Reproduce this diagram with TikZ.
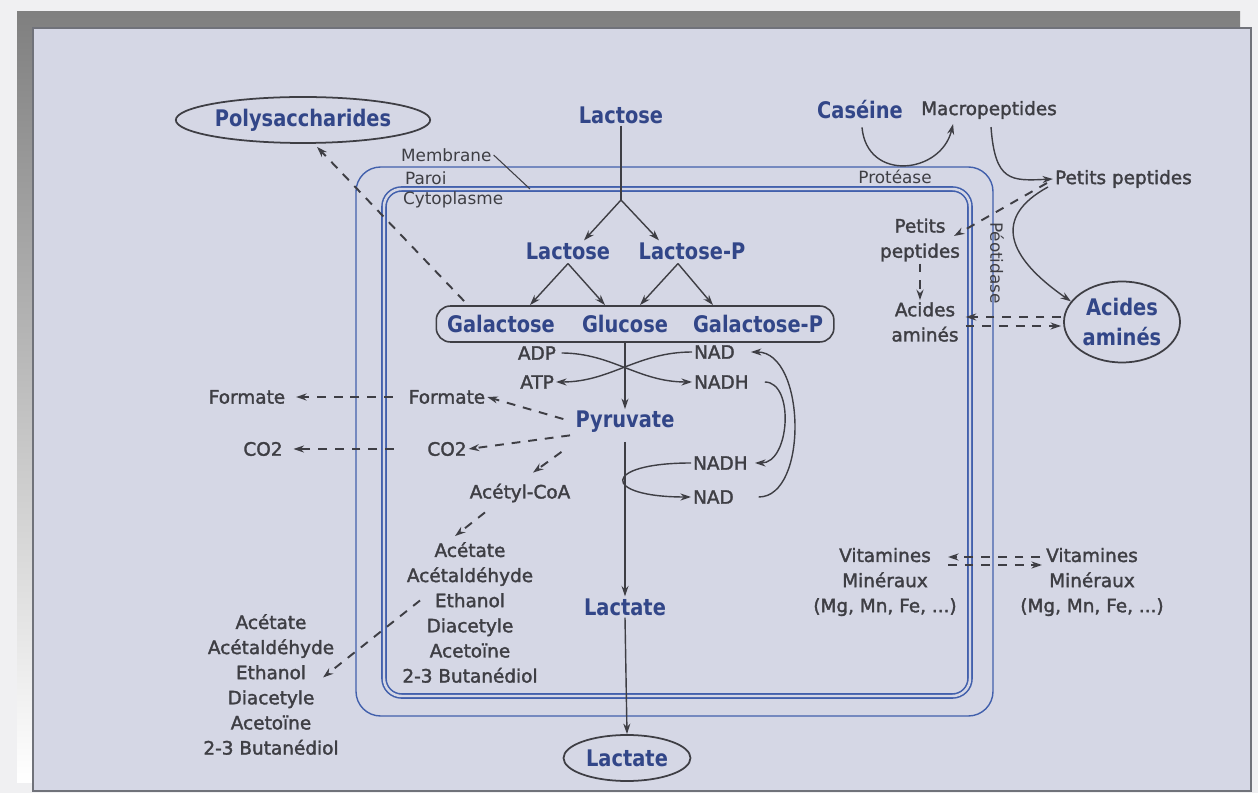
\documentclass[tikz,border=0pt]{standalone}
\usepackage{fontspec}
\setmainfont{DejaVu Sans}
\newfontfamily\condfont[FakeStretch=0.85]{DejaVu Sans}
\newfontfamily\medfont[FakeBold=1.8]{DejaVu Sans}
\usetikzlibrary{arrows.meta,shapes.geometric,positioning,calc,fit}

\definecolor{paper}{RGB}{240,240,242}
\definecolor{shade}{RGB}{112,114,122}
\definecolor{panel}{RGB}{213,215,229}
\definecolor{ink}{RGB}{62,62,68}
\definecolor{sugarblue}{RGB}{50,70,136}
\definecolor{wallblue}{RGB}{66,96,172}

\tikzset{
  sugar/.style={font=\condfont\bfseries\fontsize{13}{17}\selectfont, text=sugarblue, inner sep=1pt, align=center},
  metab/.style={font=\medfont\fontsize{10.5}{14.3}\selectfont, text=ink, inner sep=1pt, align=center},
  wall/.style={font=\fontsize{9.6}{11}\selectfont, text=ink, inner sep=1pt},
  pool/.style={ellipse, draw=ink, line width=1pt, inner sep=0pt},
  flow/.style={draw=ink, line width=0.8pt, -{Stealth[length=6pt,width=4pt]}},
  leak/.style={flow, line width=1.1pt, dash pattern=on 5pt off 4.5pt},
}

\begin{document}
\begin{tikzpicture}[x=0.02cm, y=-0.02cm]
  % frame
  \fill[paper] (0,0) rectangle (1258,793);
  \fill[shade] (17,12) rectangle (1240,782);
  \filldraw[fill=panel, draw=shade, line width=1pt] (33,28) rectangle (1251,791);

  % cell envelope
  \draw[wallblue, line width=0.8pt, rounded corners=14pt] (356,167) rectangle (993,716);
  \draw[wallblue, line width=0.9pt, double=panel, double distance=1.4pt, rounded corners=10pt] (384,189) rectangle (970,696);
  \node[wall, anchor=west] (memb) at (399,155) {Membrane};
  \node[wall, anchor=west] (paroi) at (403,178) {Paroi};
  \node[wall, anchor=west] (cyto) at (401,200) {Cytoplasme};
  \coordinate (membtip) at (530,189);
  \draw[ink, line width=0.6pt] (memb.east) -- (membtip);

  % sugars
  \node[sugar] (lacOut) at (621,115) {Lactose};
  \coordinate (fork) at (621,200);
  \node[sugar] (lacIn) at (568,251) {Lactose};
  \node[sugar] (lacP) at (692,251) {Lactose-P};
  \node[sugar] (gal) at (501,324) {Galactose};
  \node[sugar] (glu) at (625,324) {Glucose};
  \node[sugar] (galP) at (758,324) {Galactose-P};
  \node[draw=ink, line width=0.9pt, rounded corners=8pt, inner xsep=5pt, inner ysep=4pt, fit=(gal)(glu)(galP)] (hexoses) {};
  \draw[ink, line width=0.7pt] (lacOut) -- (fork);
  \draw[flow] (fork) -- ($(lacIn.north)+(16,0)$);
  \draw[flow] (fork) -- ($(lacP.north)+(-33,0)$);
  \draw[flow] ($(lacIn.south)+(0,2)$) -- ($(gal.north)+(29,-8)$);
  \draw[flow] ($(lacIn.south)+(0,2)$) -- ($(glu.north)+(-20,-8)$);
  \draw[flow] ($(lacP.south)+(-14,2)$) -- ($(glu.north)+(15,-8)$);
  \draw[flow] ($(lacP.south)+(-14,2)$) -- ($(galP.north)+(-45,-8)$);

  % glycolysis
  \node[sugar] (pyr) at (625,422) {Pyruvate};
  \node[metab, anchor=east] (adp) at (558,353) {ADP};
  \node[metab, anchor=east] (atp) at (556,382) {ATP};
  \node[metab, anchor=west] (nadA) at (692,352) {NAD};
  \node[metab, anchor=west] (nadhA) at (692,382) {NADH};
  \node[metab, anchor=west] (nadhB) at (691,463) {NADH};
  \node[metab, anchor=west] (nadB) at (691,497) {NAD};
  \draw[flow] (glu |- hexoses.south) -- (pyr.north);
  \draw[flow, shorten <=2pt] (adp.east) to[out=0, in=180] (nadhA.west);
  \draw[flow] (nadA.west) to[out=180, in=0] (atp.east);
  \draw[flow] (nadhB.west) .. controls +(-90,0) and +(-90,0) .. (nadB.west);
  \draw[flow] ([xshift=13pt]nadB.east) .. controls +(50,0) and +(55,0) .. ([xshift=8pt]nadA.east);
  \draw[flow] ([xshift=8pt]nadhA.east) .. controls +(30,0) and +(35,0) .. ([xshift=3pt]nadhB.east);

  % lactate
  \node[sugar] (lactIn) at (625,607) {Lactate};
  \node[pool, sugar, minimum width=2.54cm, minimum height=0.92cm] (lactOut) at (627,758) {Lactate};
  \draw[flow, shorten <=4pt] (pyr.south) -- (lactIn.north);
  \draw[flow] (lactIn.south) -- (lactOut.north);

  % by-products
  \node[metab] (formIn) at (447,397) {Formate};
  \node[metab] (formOut) at (247,397) {Formate};
  \node[metab] (co2In) at (447,449) {CO2};
  \node[metab] (co2Out) at (263,449) {CO2};
  \draw[leak, shorten <=6pt] (pyr.west) -- (formIn.east);
  \draw[leak, shorten <=2pt] (pyr.south west) -- (co2In.east);
  \draw[leak, shorten <=8pt, shorten >=5pt] (formIn.west) -- (formOut.east);
  \draw[leak, shorten <=18pt, shorten >=5pt] (co2In.west) -- (co2Out.east);

  \node[metab] (acoa) at (520,493) {Acétyl-CoA};
  \node[metab] (prodIn) at (470,612.5) {Acétate\\Acétaldéhyde\\Ethanol\\Diacetyle\\Acetoïne\\2-3 Butanédiol};
  \node[metab] (prodOut) at (271,684.5) {Acétate\\Acétaldéhyde\\Ethanol\\Diacetyle\\Acetoïne\\2-3 Butanédiol};
  \draw[leak] ($(pyr.south west)+(-12,17)$) -- ($(acoa.north)+(13,-9)$);
  \draw[leak] ($(acoa.south)+(-35,8)$) -- ($(prodIn.north)+(-15,-4)$);
  \draw[leak] ($(prodIn.center)+(-50,-12)$) -- ($(prodOut.center)+(52,-7)$);

  \node[pool, sugar, minimum width=4.54cm, minimum height=0.92cm] (poly) at (303,120) {Polysaccharides};
  \draw[leak] ($(gal.north west)+(19,-12)$) -- ($(poly.south)+(14,3)$);

  % proteolysis
  \node[sugar] (cas) at (860,110) {Caséine};
  \node[metab] (mac) at (989,110) {Macropeptides};
  \node[wall] (prot) at (895,177) {Protéase};
  \node[metab, anchor=west] (ppOut) at (1053,179) {Petits peptides};
  \node[pool, sugar, minimum width=2.3cm, minimum height=1.62cm] (aaOut) at (1122,322) {Acides\\aminés};
  \node[metab] (ppIn) at (920,240) {Petits\\peptides};
  \node[metab] (aaIn) at (925,322) {Acides\\aminés};
  \node[wall, rotate=-90] (pept) at (997,263) {Péotidase};
  \draw[flow] ($(cas.south)+(2,6)$) .. controls +(5,55) and +(-12,50) .. ($(mac.south west)+(34,3)$);
  \draw[flow] ($(mac.south)+(2,6)$) .. controls +(4,55) and +(-42,2) .. (ppOut.west);
  \draw[flow] ($(ppOut.west)+(-5,8)$) .. controls +(-55,30) and +(-65,-45) .. (aaOut.158);
  \draw[leak] ($(ppOut.west)+(-6,4)$) -- ($(ppIn.center)+(34,-4)$);
  \draw[leak] (ppIn.south) -- (ppIn.south |- aaIn.north);
  \draw[leak] ($(aaOut.west)+(-2,-5)$) -- ($(aaIn.east)+(5,-5)$);
  \draw[leak] ($(aaIn.east)+(5,4)$) -- ($(aaOut.west)+(-2,4)$);

  % vitamins
  \node[metab] (vitIn) at (885,582) {Vitamines\\Minéraux\\(Mg, Mn, Fe, ...)};
  \node[metab] (vitOut) at (1092,582) {Vitamines\\Minéraux\\(Mg, Mn, Fe, ...)};
  \draw[leak] ($(vitOut.center)+(-52,-25)$) -- ($(vitIn.center)+(63,-25)$);
  \draw[leak] ($(vitIn.center)+(63,-17)$) -- ($(vitOut.center)+(-50,-17)$);
\end{tikzpicture}
\end{document}
